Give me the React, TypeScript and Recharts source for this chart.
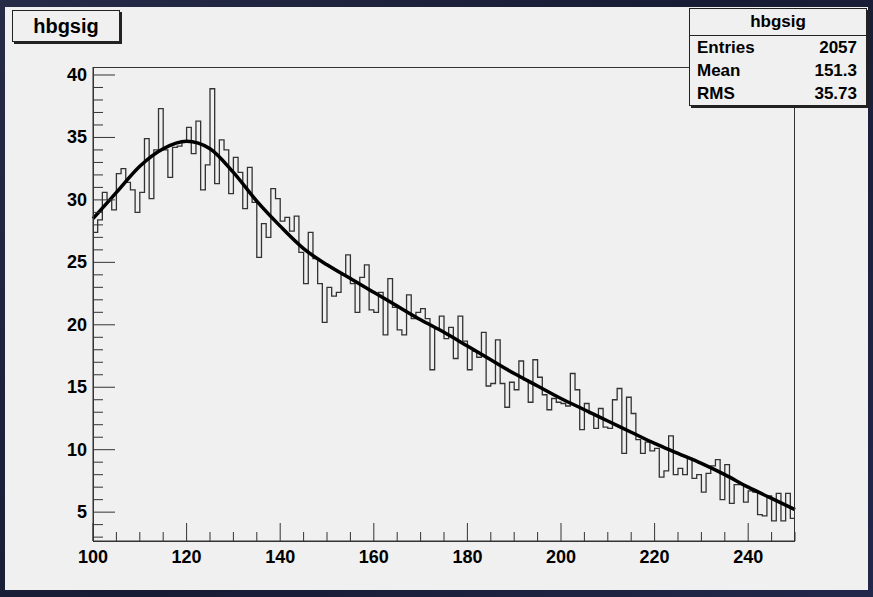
import React from "react"
import { ComposedChart, Line, XAxis, YAxis } from "recharts"

// bin contents, 1-wide bins from 100 to 250
const counts = [
  27.4, 28.4, 30.6, 30.0, 29.2, 32.1, 32.5, 31.4, 30.8, 29.0,
  30.6, 34.9, 30.1, 34.0, 37.3, 34.0, 31.8, 34.2, 34.3, 34.6,
  35.8, 33.7, 36.3, 30.8, 32.8, 38.9, 31.3, 34.8, 34.0, 30.5,
  33.4, 32.2, 29.3, 32.6, 29.8, 25.4, 28.1, 27.0, 30.9, 30.1,
  28.3, 28.6, 27.5, 28.7, 25.8, 23.3, 27.4, 25.3, 23.3, 20.2,
  23.0, 22.3, 22.6, 24.0, 25.6, 23.3, 21.0, 23.8, 24.8, 21.2,
  21.0, 22.6, 19.2, 23.7, 21.4, 19.6, 19.2, 22.4, 20.5, 21.0,
  21.3, 20.5, 16.4, 19.7, 20.7, 18.9, 19.8, 17.3, 20.7, 18.7,
  16.4, 17.9, 17.4, 19.4, 15.1, 15.3, 18.8, 15.3, 13.4, 15.4,
  14.8, 17.1, 15.6, 13.8, 17.2, 15.8, 14.4, 13.2, 14.1, 13.8,
  13.7, 13.5, 16.1, 14.8, 11.6, 13.7, 12.9, 11.7, 13.3, 11.8,
  11.7, 14.0, 14.9, 9.7, 14.2, 12.9, 10.8, 9.7, 10.6, 9.9,
  10.1, 7.8, 8.3, 11.1, 8.0, 8.5, 8.0, 9.3, 7.7, 8.0,
  6.6, 8.1, 8.7, 9.2, 6.0, 8.8, 5.7, 7.2, 7.2, 5.8,
  6.7, 6.6, 4.8, 4.7, 6.3, 4.3, 6.5, 4.3, 6.5, 4.5,
]
const binStart = 100

// fitted function, sampled every 5
const fitX = [100, 105, 110, 115, 120, 125, 130, 135, 140, 145, 150, 155, 160, 165, 170, 175, 180, 185, 190, 195, 200, 205, 210, 215, 220, 225, 230, 235, 240, 245, 250]
const fitY = [28.5, 30.6, 32.7, 34.1, 34.7, 34.1, 32.2, 29.9, 27.9, 26.1, 24.8, 23.7, 22.6, 21.5, 20.4, 19.4, 18.3, 17.2, 16.1, 15.1, 14.1, 13.2, 12.3, 11.4, 10.5, 9.7, 8.9, 8.0, 7.0, 6.1, 5.2]

const statsRows = [
  ["Entries", "2057"],
  ["Mean", "151.3"],
  ["RMS", "35.73"],
]

const xTicks = [100, 105, 110, 115, 120, 125, 130, 135, 140, 145, 150, 155, 160, 165, 170, 175, 180, 185, 190, 195, 200, 205, 210, 215, 220, 225, 230, 235, 240, 245, 250]
const yTicks = Array.from({ length: 38 }, (_, i) => 3 + i)

const histData = [
  ...counts.map((c, i) => ({ x: binStart + i, h: c })),
  { x: binStart + counts.length, h: counts[counts.length - 1] },
]
const fitData = fitX.map((x, i) => ({ x, f: fitY[i] }))

const font = "'Liberation Sans', Arial, sans-serif"

const XTick = (p: any) => {
  const v = p.payload.value
  const major = v % 20 === 0
  return (
    <g>
      <line x1={p.x} x2={p.x} y1={p.y} y2={p.y - (major ? 18 : 9)} stroke="#333" />
      {major && (
        <text x={p.x} y={p.y + 22} textAnchor="middle" fontFamily={font} fontWeight="bold" fontSize={18} fill="#000">
          {v}
        </text>
      )}
    </g>
  )
}

const YTick = (p: any) => {
  const v = p.payload.value
  const major = v % 5 === 0
  return (
    <g>
      <line x1={p.x} x2={p.x + (major ? 22 : 10)} y1={p.y} y2={p.y} stroke="#333" />
      {major && (
        <text x={p.x - 6} y={p.y + 6} textAnchor="end" fontFamily={font} fontWeight="bold" fontSize={18} fill="#000">
          {v}
        </text>
      )}
    </g>
  )
}

export default function App() {
  return (
    <div style={{ position: "fixed", left: 0, top: 0, width: 873, height: 597, background: "linear-gradient(135deg, #262b48, #171b33 50%, #22284a)" }}>
      <div style={{ position: "absolute", left: 5, top: 7, width: 863, height: 583, background: "#f0f0f0" }}>
        <ComposedChart width={863} height={583} margin={{ top: 60, right: 73, bottom: 19, left: 28 }}>
          <XAxis dataKey="x" type="number" domain={[100, 250]} ticks={xTicks} interval={0} allowDuplicatedCategory={false}
            tickSize={0} tickMargin={0} tick={<XTick />} axisLine={{ stroke: "#333" }} height={30} />
          <YAxis type="number" domain={[2.69, 40.64]} ticks={yTicks} interval={0} tickSize={0} tickMargin={0}
            tick={<YTick />} axisLine={{ stroke: "#333" }} width={60} />
          <Line data={histData} dataKey="h" type="stepAfter" stroke="#333" strokeWidth={1.3} dot={false} isAnimationActive={false} />
          <Line data={fitData} dataKey="f" type="monotone" stroke="#000" strokeWidth={3.5} dot={false} isAnimationActive={false} />
        </ComposedChart>
        {/* frame */}
        <div style={{ position: "absolute", left: 88, top: 60, width: 702, height: 475, border: "1px solid #333", boxSizing: "border-box", pointerEvents: "none" }} />
        {/* title box */}
        <div style={{ position: "absolute", left: 7, top: 3, width: 106, height: 30, border: "1px solid #222", boxShadow: "2px 2px 0 #222", background: "#f0f0f0", fontFamily: font, fontWeight: "bold", fontSize: 20, lineHeight: "30px", textAlign: "center" }}>
          hbgsig
        </div>
        {/* stats box */}
        <div style={{ position: "absolute", left: 684, top: 1, width: 176, height: 96, border: "1px solid #222", boxShadow: "2px 2px 0 #222", background: "#f0f0f0", fontFamily: font, fontWeight: "bold", fontSize: 17 }}>
          <div style={{ height: 26, lineHeight: "26px", textAlign: "center", borderBottom: "1px solid #222" }}>hbgsig</div>
          {statsRows.map(r => (
            <div key={r[0]} style={{ display: "flex", justifyContent: "space-between", height: 23, lineHeight: "23px", padding: "0 9px 0 7px" }}>
              <span>{r[0]}</span>
              <span>{r[1]}</span>
            </div>
          ))}
        </div>
      </div>
    </div>
  )
}
